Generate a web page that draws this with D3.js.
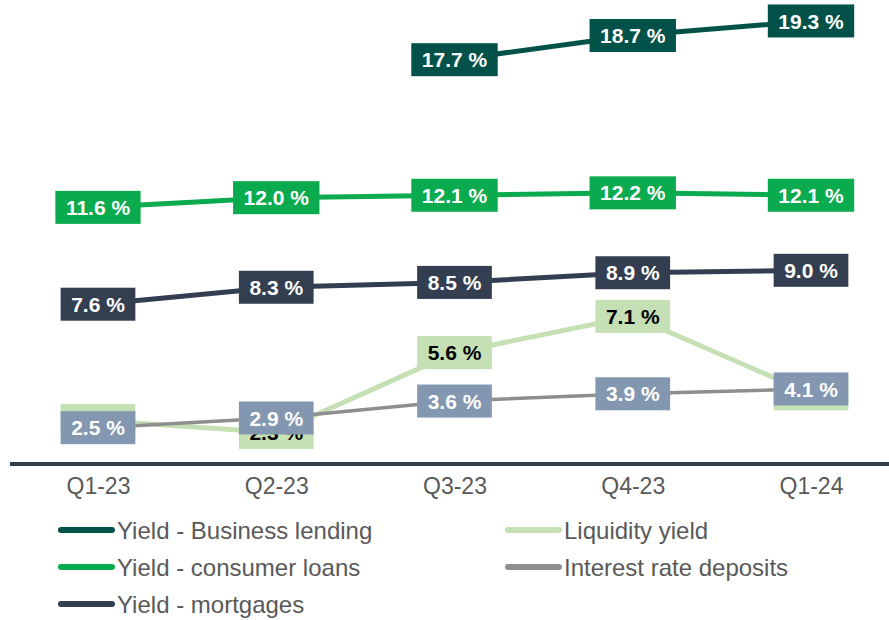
<!DOCTYPE html>
<html>
<head>
<meta charset="utf-8">
<script src="https://cdn.jsdelivr.net/npm/d3@7"></script>
<style>
  body { margin: 0; background: #fff; }
  svg { display: block; font-family: "Liberation Sans", Arial, sans-serif; }
</style>
</head>
<body>
<svg id="chart" width="889" height="620"></svg>
<script>
const quarters = ["Q1-23", "Q2-23", "Q3-23", "Q4-23", "Q1-24"];
const businessLending = [null, null, 17.7, 18.7, 19.3];
const consumerLoans = [11.6, 12.0, 12.1, 12.2, 12.1];
const mortgages = [7.6, 8.3, 8.5, 8.9, 9.0];
const liquidityYield = [2.8, 2.3, 5.6, 7.1, 3.9];
const depositRates = [2.5, 2.9, 3.6, 3.9, 4.1];
const seriesNames = ["Yield - Business lending", "Yield - consumer loans", "Yield - mortgages",
                     "Liquidity yield", "Interest rate deposits"];

const series = [
  { name: seriesNames[0], values: businessLending, line: "#03524A", box: "#03524A", text: "#fff", width: 5 },
  { name: seriesNames[1], values: consumerLoans, line: "#0AAB4E", box: "#0AAB4E", text: "#fff", width: 5 },
  { name: seriesNames[2], values: mortgages, line: "#333F50", box: "#333F50", text: "#fff", width: 5 },
  { name: seriesNames[3], values: liquidityYield, line: "#C5E0B4", box: "#C5E0B4", text: "#000", width: 5 },
  { name: seriesNames[4], values: depositRates, line: "#8E8E8E", box: "#8497B0", text: "#fff", width: 3.5 }
];

const svg = d3.select("#chart");

const x = d3.scalePoint().domain(quarters).range([98, 811]);
const y = d3.scaleLinear().domain([1, 20]).range([464, 4]);

// x axis labels
const xAxis = svg.append("g")
  .attr("transform", `translate(0,${y(1)})`)
  .call(d3.axisBottom(x).tickSize(0).tickPadding(14));
xAxis.select(".domain").remove();
xAxis.selectAll("text")
  .attr("font-size", 23)
  .attr("font-family", "'Liberation Sans', Arial, sans-serif")
  .attr("fill", "#595959");

// base line
svg.append("line")
  .attr("x1", 10).attr("x2", 889)
  .attr("y1", y(1)).attr("y2", y(1))
  .attr("stroke", "#343E49")
  .attr("stroke-width", 4);

// lines
const line = d3.line()
  .defined(d => d != null)
  .x((d, i) => x(quarters[i]))
  .y(d => y(d));

series.forEach(s => {
  svg.append("path")
    .datum(s.values)
    .attr("fill", "none")
    .attr("stroke", s.line)
    .attr("stroke-width", s.width)
    .attr("d", line);
});

// data labels
series.forEach(s => {
  const g = svg.append("g");
  s.values.forEach((v, i) => {
    if (v == null) return;
    const cx = x(quarters[i]);
    const cy = y(v);
    const lab = g.append("g");
    const rect = lab.append("rect").attr("fill", s.box);
    const t = lab.append("text")
      .attr("x", cx).attr("y", cy)
      .attr("dy", "0.36em")
      .attr("text-anchor", "middle")
      .attr("font-size", 21)
      .attr("font-weight", "bold")
      .attr("fill", s.text)
      .text(v.toFixed(1) + " %");
    const w = t.node().getComputedTextLength() + 21;
    rect.attr("x", cx - w / 2).attr("y", cy - 16.5)
      .attr("width", w).attr("height", 33);
  });
});

// legend
const legendPos = [[58, 530], [58, 567], [58, 604], [505, 530], [505, 567]];
const legend = svg.append("g");
series.forEach((s, i) => {
  const [lx, ly] = legendPos[i];
  legend.append("line")
    .attr("x1", lx + 3).attr("x2", lx + 54)
    .attr("y1", ly).attr("y2", ly)
    .attr("stroke", s.line)
    .attr("stroke-width", 6)
    .attr("stroke-linecap", "round");
  legend.append("text")
    .attr("x", lx + 59).attr("y", ly)
    .attr("dy", "0.36em")
    .attr("font-size", 24)
    .attr("fill", "#595959")
    .text(s.name);
});
</script>
</body>
</html>
